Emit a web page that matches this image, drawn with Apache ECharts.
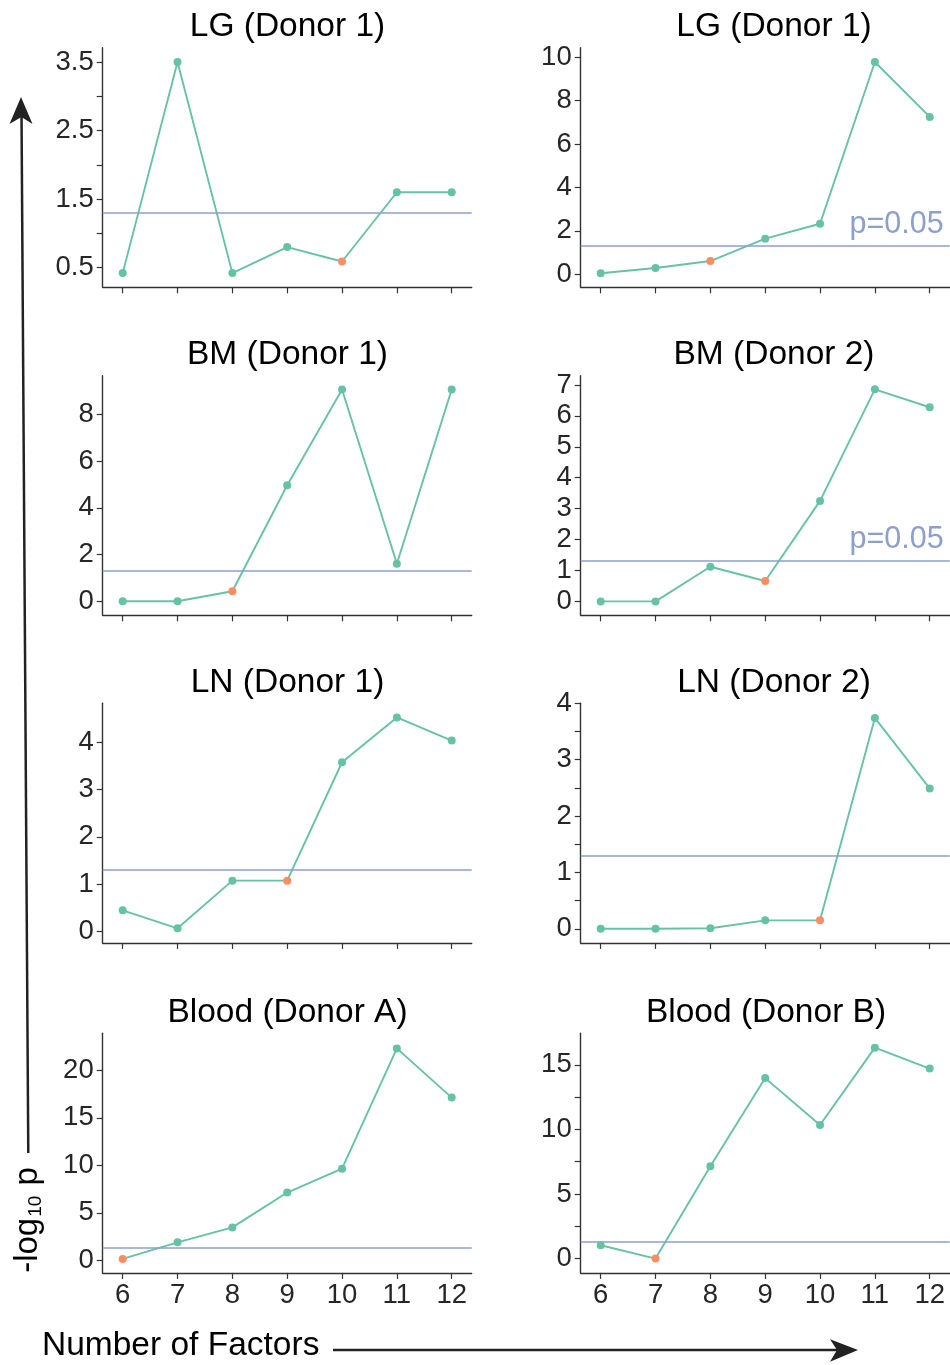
<!DOCTYPE html>
<html>
<head>
<meta charset="utf-8">
<script src="https://cdn.jsdelivr.net/npm/echarts@6/dist/echarts.min.js"></script>
<style>
  html, body { margin: 0; padding: 0; background: #fff; }
  #chart { width: 950px; height: 1365px; }
</style>
</head>
<body>
<div id="chart"></div>
<script>
// Number of factors tested in each model
const factors = [6, 7, 8, 9, 10, 11, 12];

// -log10 p for each tissue / donor
const lgDonor1Left  = [0.42, 3.5, 0.42, 0.8, 0.59, 1.6, 1.6];
const lgDonor1Right = [0.05, 0.29, 0.61, 1.64, 2.33, 9.78, 7.25];
const bmDonor1      = [0, 0, 0.43, 4.97, 9.07, 1.61, 9.07];
const bmDonor2      = [0, 0, 1.12, 0.66, 3.25, 6.86, 6.28];
const lnDonor1      = [0.44, 0.06, 1.07, 1.07, 3.58, 4.53, 4.04];
const lnDonor2      = [0, 0, 0.01, 0.15, 0.15, 3.74, 2.49];
const bloodDonorA   = [0.14, 1.89, 3.46, 7.13, 9.65, 22.31, 17.13];
const bloodDonorB   = [1.03, 0, 7.15, 13.97, 10.34, 16.33, 14.71];

// Selected number of factors per panel (drawn in orange)
const chosenFactors = [10, 8, 8, 9, 9, 10, 6, 7];

const panelTitles = [
  'LG (Donor 1)', 'LG (Donor 1)',
  'BM (Donor 1)', 'BM (Donor 2)',
  'LN (Donor 1)', 'LN (Donor 2)',
  'Blood (Donor A)', 'Blood (Donor B)'
];

// y-axis ticks and the subset that carries labels
const yTicks = [
  [0.5, 1, 1.5, 2, 2.5, 3, 3.5],
  [0, 2, 4, 6, 8, 10],
  [0, 2, 4, 6, 8],
  [0, 1, 2, 3, 4, 5, 6, 7],
  [0, 1, 2, 3, 4],
  [0, 0.5, 1, 1.5, 2, 2.5, 3, 3.5, 4],
  [0, 5, 10, 15, 20],
  [0, 2.5, 5, 7.5, 10, 12.5, 15]
];
const yLabels = [
  [0.5, 1.5, 2.5, 3.5],
  [0, 2, 4, 6, 8, 10],
  [0, 2, 4, 6, 8],
  [0, 1, 2, 3, 4, 5, 6, 7],
  [0, 1, 2, 3, 4],
  [0, 1, 2, 3, 4],
  [0, 5, 10, 15, 20],
  [0, 5, 10, 15]
];
const xLabels = [6, 7, 8, 9, 10, 11, 12];

// significance threshold, -log10(0.05)
const threshold = -Math.log10(0.05);

const panelValues = [lgDonor1Left, lgDonor1Right, bmDonor1, bmDonor2,
                     lnDonor1, lnDonor2, bloodDonorA, bloodDonorB];

// axis extents of each panel
const yExtents = [
  [0.213, 3.71], [-0.6, 10.44], [-0.6, 9.66], [-0.45, 7.3],
  [-0.25, 4.83], [-0.25, 4.0], [-1.33, 23.9], [-1.11, 17.44]
];
const showPLabel = [false, true, false, true, false, false, false, false];

const GREEN = '#66C2A5', ORANGE = '#FC8D62', BLUE = '#8DA0CB';
const FONT = '"Liberation Sans", Arial, Helvetica, sans-serif';
const AXIS_COLOR = '#333';

const colLeft = [102.7, 580.7];
const plotW = 369;
const rowTop = [47.7, 375.7, 703.3, 1033.3];
const plotH = 239.6;
const titleX = [287.5, 774, 287.5, 774, 287.5, 774, 287.5, 766];
const xPad = 20 / 54.83;

const grids = [], xAxes = [], yAxes = [], series = [], graphics = [];

panelValues.forEach((vals, i) => {
  const col = i % 2, row = Math.floor(i / 2);
  const bottomRow = row === 3;
  grids.push({ left: colLeft[col], top: rowTop[row], width: plotW, height: plotH });

  xAxes.push({
    type: 'value', gridIndex: i,
    min: factors[0] - xPad, max: factors[factors.length - 1] + xPad,
    axisLine: { show: true, onZero: false, lineStyle: { color: AXIS_COLOR, width: 1.4 } },
    axisTick: { show: true, length: 6, customValues: xLabels, lineStyle: { color: AXIS_COLOR, width: 1.2 } },
    axisLabel: { show: bottomRow, customValues: xLabels, fontSize: 27.5, fontFamily: FONT, color: '#262626', margin: 9 },
    splitLine: { show: false }
  });

  yAxes.push({
    type: 'value', gridIndex: i,
    min: yExtents[i][0], max: yExtents[i][1],
    axisLine: { show: true, onZero: false, lineStyle: { color: AXIS_COLOR, width: 1.4 } },
    axisTick: { show: true, length: 6, customValues: yTicks[i], lineStyle: { color: AXIS_COLOR, width: 1.2 } },
    axisLabel: { show: true, customValues: yLabels[i], fontSize: 27.5, fontFamily: FONT, color: '#262626', margin: 9 },
    splitLine: { show: false }
  });

  series.push({
    type: 'line', xAxisIndex: i, yAxisIndex: i,
    data: factors.map((k, j) => k === chosenFactors[i]
      ? { value: [k, vals[j]], itemStyle: { color: ORANGE } }
      : { value: [k, vals[j]] }),
    symbol: 'circle', symbolSize: 8,
    lineStyle: { color: GREEN, width: 1.9 },
    itemStyle: { color: GREEN, borderWidth: 0 },
    emphasis: { disabled: true },
    z: 3,
    markLine: {
      silent: true, symbol: 'none', animation: false,
      lineStyle: { color: BLUE, width: 1.5, type: 'solid' },
      label: {
        show: showPLabel[i], position: 'insideEndTop', formatter: 'p=0.05',
        color: BLUE, fontSize: 30.5, fontFamily: FONT, distance: [6, 6]
      },
      data: [{ yAxis: threshold }]
    }
  });

  graphics.push({
    type: 'text', x: titleX[i], y: rowTop[row] - 21,
    style: { text: panelTitles[i], fill: '#000', fontSize: 33.5, fontFamily: FONT,
             align: 'center', verticalAlign: 'middle' }
  });
});

// vertical arrow: -log10 p
graphics.push({
  type: 'polyline', shape: { points: [[28.3, 1153], [21.5, 112]] },
  style: { stroke: '#222', lineWidth: 2.5, fill: null }
});
graphics.push({
  type: 'polygon', shape: { points: [[21, 97], [32.5, 124], [21.4, 117], [9.5, 124]] },
  style: { fill: '#222' }
});
graphics.push({
  type: 'text', x: 28, y: 1220, rotation: Math.PI / 2,
  style: {
    text: '-log{sub|10} p', fill: '#000', fontSize: 33, fontFamily: FONT,
    align: 'center', verticalAlign: 'middle',
    rich: { sub: { fontSize: 19, fontFamily: FONT, fill: '#000', verticalAlign: 'bottom', padding: [15, 1, 0, 1] } }
  }
});

// horizontal arrow: Number of Factors
graphics.push({
  type: 'text', x: 42, y: 1346,
  style: { text: 'Number of Factors', fill: '#000', fontSize: 33.5, fontFamily: FONT,
           align: 'left', verticalAlign: 'middle' }
});
graphics.push({
  type: 'polyline', shape: { points: [[333, 1350], [845, 1350]] },
  style: { stroke: '#222', lineWidth: 2.5, fill: null }
});
graphics.push({
  type: 'polygon', shape: { points: [[858, 1350], [830, 1339.3], [837, 1350], [830, 1361.7]] },
  style: { fill: '#222' }
});

const chart = echarts.init(document.getElementById('chart'), null, { renderer: 'canvas' });
chart.setOption({
  animation: false,
  backgroundColor: '#fff',
  grid: grids,
  xAxis: xAxes,
  yAxis: yAxes,
  series: series,
  graphic: graphics
});
</script>
</body>
</html>
